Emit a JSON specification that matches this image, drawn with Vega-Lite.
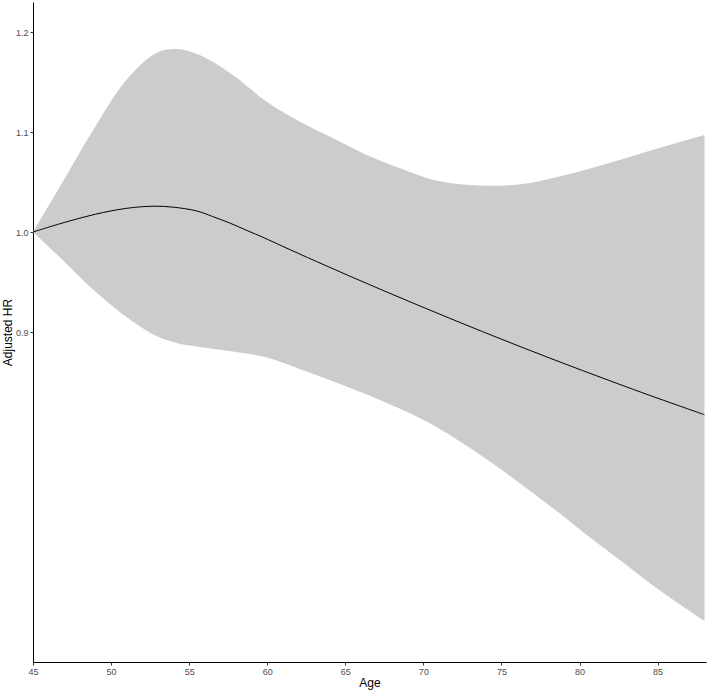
{
  "$schema": "https://vega.github.io/schema/vega-lite/v6.json",
  "autosize": "none",
  "width": 673,
  "height": 660,
  "padding": {"left": 33, "top": 2, "right": 2, "bottom": 29},
  "background": "white",
  "config": {
    "view": {"stroke": null},
    "font": "Liberation Sans",
    "axis": {
      "grid": false,
      "labelFlush": false,
      "domainColor": "#000000",
      "domainWidth": 1,
      "tickColor": "#333333",
      "tickSize": 3,
      "labelFontSize": 9,
      "labelColor": "#4d4d4d",
      "labelFont": "Liberation Sans",
      "titleFont": "Liberation Sans",
      "titleFontSize": 12,
      "titleFontWeight": "normal",
      "titleColor": "#000000"
    }
  },
  "datasets": {
    "band": [
      {"age": 45.0, "lower": 1.000, "upper": 1.000},
      {"age": 46.9, "lower": 0.972, "upper": 1.050},
      {"age": 48.74, "lower": 0.944, "upper": 1.099},
      {"age": 50.98, "lower": 0.915, "upper": 1.152},
      {"age": 52.9, "lower": 0.896, "upper": 1.179},
      {"age": 54.18, "lower": 0.889, "upper": 1.183},
      {"age": 55.67, "lower": 0.885, "upper": 1.177},
      {"age": 57.8, "lower": 0.8805, "upper": 1.157},
      {"age": 59.94, "lower": 0.8747, "upper": 1.1306},
      {"age": 62.07, "lower": 0.863, "upper": 1.1106},
      {"age": 64.2, "lower": 0.8508, "upper": 1.094},
      {"age": 66.34, "lower": 0.8378, "upper": 1.0773},
      {"age": 68.47, "lower": 0.8236, "upper": 1.064},
      {"age": 70.6, "lower": 0.8072, "upper": 1.0523},
      {"age": 72.74, "lower": 0.7864, "upper": 1.0473},
      {"age": 74.87, "lower": 0.7637, "upper": 1.0463},
      {"age": 76.8, "lower": 0.7416, "upper": 1.049},
      {"age": 78.7, "lower": 0.719, "upper": 1.0555},
      {"age": 80.8, "lower": 0.693, "upper": 1.064},
      {"age": 83.0, "lower": 0.667, "upper": 1.074},
      {"age": 85.1, "lower": 0.642, "upper": 1.084},
      {"age": 88.0, "lower": 0.611, "upper": 1.097}
    ],
    "fit": [
      {"age": 45.0, "hr": 1.000},
      {"age": 47.0, "hr": 1.0095},
      {"age": 49.0, "hr": 1.0178},
      {"age": 51.0, "hr": 1.0237},
      {"age": 52.7, "hr": 1.0258},
      {"age": 54.0, "hr": 1.0248},
      {"age": 55.5, "hr": 1.021},
      {"age": 56.5, "hr": 1.0155},
      {"age": 57.6, "hr": 1.009},
      {"age": 58.7, "hr": 1.0015},
      {"age": 59.8, "hr": 0.9942},
      {"age": 61.0, "hr": 0.9856},
      {"age": 63.14, "hr": 0.9706},
      {"age": 65.27, "hr": 0.956},
      {"age": 67.4, "hr": 0.9417},
      {"age": 69.54, "hr": 0.9276},
      {"age": 71.67, "hr": 0.9138},
      {"age": 73.8, "hr": 0.9003},
      {"age": 75.94, "hr": 0.887},
      {"age": 78.08, "hr": 0.874},
      {"age": 80.2, "hr": 0.8614},
      {"age": 82.35, "hr": 0.8489},
      {"age": 84.5, "hr": 0.8366},
      {"age": 86.25, "hr": 0.8269},
      {"age": 88.0, "hr": 0.8173}
    ]
  },
  "layer": [
    {
      "data": {"name": "band"},
      "mark": {"type": "area", "color": "#cccccc", "opacity": 1, "interpolate": "catmull-rom"},
      "encoding": {
        "x": {
          "field": "age",
          "type": "quantitative",
          "title": "Age",
          "scale": {"domain": [45, 88.1], "nice": false, "zero": false},
          "axis": {"values": [45, 50, 55, 60, 65, 70, 75, 80, 85], "labelPadding": 2, "titlePadding": 1}
        },
        "y": {
          "field": "lower",
          "type": "quantitative",
          "title": "Adjusted HR",
          "scale": {"domain": [0.57, 1.23], "nice": false, "zero": false},
          "axis": {"values": [0.9, 1.0, 1.1, 1.2], "format": ".1f", "labelPadding": 2, "titlePadding": 1}
        },
        "y2": {"field": "upper"}
      }
    },
    {
      "data": {"name": "fit"},
      "mark": {"type": "line", "color": "#000000", "strokeWidth": 1, "interpolate": "catmull-rom"},
      "encoding": {
        "x": {"field": "age", "type": "quantitative"},
        "y": {"field": "hr", "type": "quantitative"}
      }
    }
  ]
}
